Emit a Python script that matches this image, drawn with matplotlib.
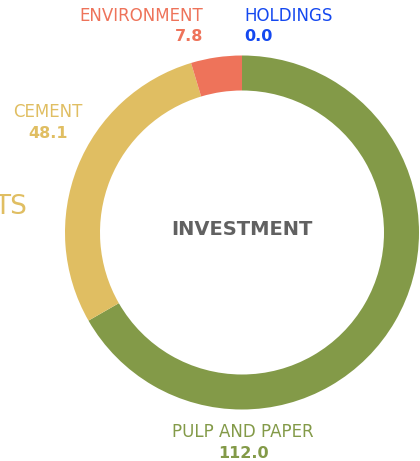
import matplotlib.pyplot as plt

# donut data
segments = ['PULP AND PAPER', 'CEMENT', 'ENVIRONMENT', 'HOLDINGS']
values = [112.0, 48.1, 7.8, 0.0]
colors = ['#839a48', '#e0be62', '#ee735a', '#1448f0']
center_title = 'INVESTMENT'

W, H = 420, 461
fig = plt.figure(figsize=(W / 100, H / 100), dpi=100)
ax = fig.add_axes([0, 0, 1, 1])

cx, cy = 242, H - 232.5
ax.pie(values, colors=colors, startangle=90, counterclock=False,
       center=(cx, cy), radius=177, frame=True,
       wedgeprops=dict(width=35, linewidth=0))
ax.set_xlim(0, W)
ax.set_ylim(0, H)
ax.set_aspect('equal')
ax.axis('off')

def label(x, y, name, val, col, ha):
    ax.text(x, H - y, name, color=col, fontsize=12, ha=ha, va='center')
    ax.text(x, H - y - 21, '%.1f' % val, color=col, fontsize=11.5,
            fontweight='bold', ha=ha, va='center')

label(203, 16, segments[2], values[2], colors[2], 'right')
label(244, 16, segments[3], values[3], colors[3], 'left')
label(48, 112, segments[1], values[1], colors[1], 'center')
label(243, 432, segments[0], values[0], colors[0], 'center')

ax.text(cx, H - 229.5, center_title, color='#616161', fontsize=14,
        fontweight='bold', ha='center', va='center')

# cut-off heading at the left edge
ax.text(-6, H - 207, 'TS', color=colors[1], fontsize=19, ha='left', va='center')

fig.savefig('out.png', dpi=100)
